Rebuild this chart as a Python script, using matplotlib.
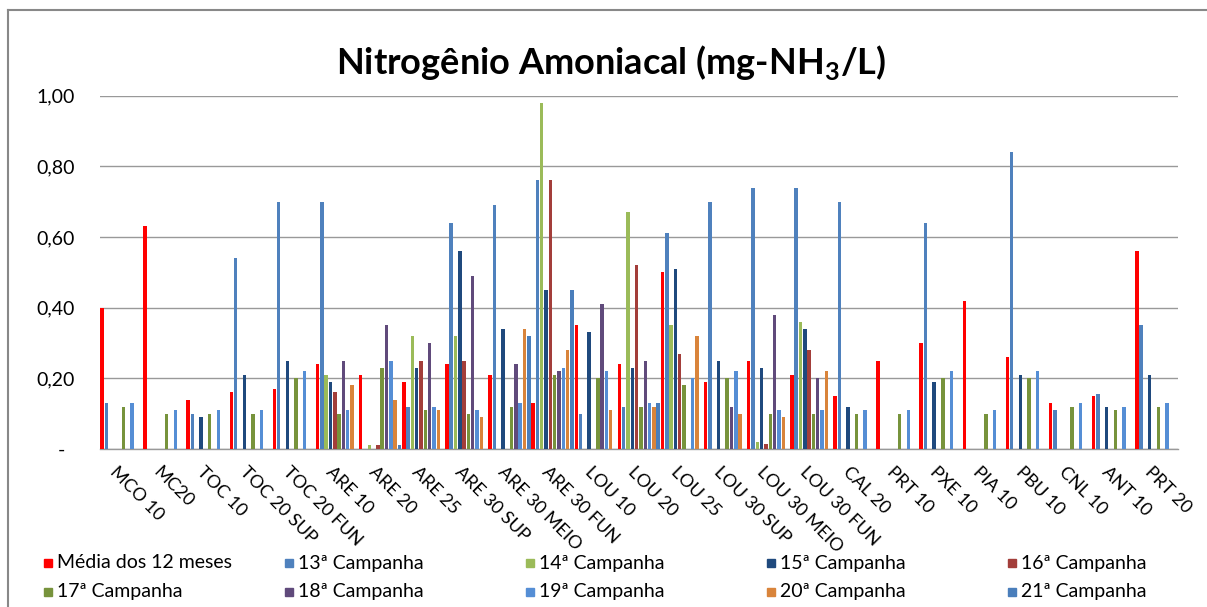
import numpy as np
import matplotlib
matplotlib.use("Agg")
import matplotlib.pyplot as plt
from matplotlib.lines import Line2D
from matplotlib.patches import Rectangle

plt.rcParams['font.family'] = ['Lato', 'DejaVu Sans']
plt.rcParams['mathtext.fontset'] = 'custom'
plt.rcParams['mathtext.rm'] = 'Lato'
plt.rcParams['mathtext.bf'] = 'Lato:bold'

nan = np.nan

# sampling points
pontos = ["MCO 10", "MC20", "TOC 10", "TOC 20 SUP", "TOC 20 FUN", "ARE 10", "ARE 20",
          "ARE 25", "ARE 30 SUP", "ARE 30 MEIO", "ARE 30 FUN", "LOU 10", "LOU 20",
          "LOU 25", "LOU 30 SUP", "LOU 30 MEIO", "LOU 30 FUN", "CAL 20", "PRT 10",
          "PXE 10", "PIA 10", "PBU 10", "CNL 10", "ANT 10", "PRT 20"]

#                 MCO  MC20 TOC10 T20S T20F ARE10 ARE20 ARE25 A30S A30M A30F LOU10 LOU20 LOU25 L30S L30M L30F CAL20 PRT10 PXE10 PIA10 PBU10 CNL10 ANT10 PRT20
media        = [0.40, 0.63, 0.14, 0.16, 0.17, 0.24, 0.21, 0.19, 0.24, 0.21, 0.13, 0.35, 0.24, 0.50, 0.19, 0.25, 0.21, 0.15, 0.25, 0.30, 0.42, 0.26, 0.13, 0.15, 0.56]
camp13       = [0.13, nan,  0.10, 0.54, 0.70, 0.70, nan,  0.12, 0.64, 0.69, 0.76, 0.10, 0.12, 0.61, 0.70, 0.74, 0.74, 0.70, nan,  0.64, nan,  0.84, 0.11, 0.155, 0.35]
camp14       = [nan,  nan,  nan,  nan,  nan,  0.21, 0.01, 0.32, 0.32, nan,  0.98, nan,  0.67, 0.35, nan,  0.02, 0.36, nan,  nan,  nan,  nan,  nan,  nan,  nan,  nan]
camp15       = [nan,  nan,  0.09, 0.21, 0.25, 0.19, nan,  0.23, 0.56, 0.34, 0.45, 0.33, 0.23, 0.51, 0.25, 0.23, 0.34, 0.12, nan,  0.19, nan,  0.21, nan,  0.12, 0.21]
camp16       = [nan,  nan,  nan,  nan,  nan,  0.16, 0.01, 0.25, 0.25, nan,  0.76, nan,  0.52, 0.27, nan,  0.015, 0.28, nan, nan,  nan,  nan,  nan,  nan,  nan,  nan]
camp17       = [0.12, 0.10, 0.10, 0.10, 0.20, 0.10, 0.23, 0.11, 0.10, 0.12, 0.21, 0.20, 0.12, 0.18, 0.20, 0.10, 0.10, 0.10, 0.10, 0.20, 0.10, 0.20, 0.12, 0.11, 0.12]
camp18       = [nan,  nan,  nan,  nan,  nan,  0.25, 0.35, 0.30, 0.49, 0.24, 0.22, 0.41, 0.25, nan,  0.12, 0.38, 0.20, nan,  nan,  nan,  nan,  nan,  nan,  nan,  nan]
camp19       = [0.13, 0.11, 0.11, 0.11, 0.22, 0.11, 0.25, 0.12, 0.11, 0.13, 0.23, 0.22, 0.13, 0.20, 0.22, 0.11, 0.11, 0.11, 0.11, 0.22, 0.11, 0.22, 0.13, 0.12, 0.13]
camp20       = [nan,  nan,  nan,  nan,  nan,  0.18, 0.14, 0.11, 0.09, 0.34, 0.28, 0.11, 0.12, 0.32, 0.10, 0.09, 0.22, nan,  nan,  nan,  nan,  nan,  nan,  nan,  nan]
camp21       = [nan,  nan,  nan,  nan,  nan,  nan,  0.01, nan,  nan,  0.32, 0.45, nan,  0.13, nan,  nan,  nan,  nan,  nan,  nan,  nan,  nan,  nan,  nan,  nan,  nan]

series = [media, camp13, camp14, camp15, camp16, camp17, camp18, camp19, camp20, camp21]
labels = ["Média dos 12 meses", "13ª Campanha", "14ª Campanha", "15ª Campanha", "16ª Campanha",
          "17ª Campanha", "18ª Campanha", "19ª Campanha", "20ª Campanha", "21ª Campanha"]
colors = ["#FF0000", "#4F81BD", "#9BBB59", "#1F497D", "#A33E3A",
          "#77933C", "#604A7B", "#558ED5", "#D9843B", "#4A7EBB"]

yticks = [0, 0.2, 0.4, 0.6, 0.8, 1.0]
ytick_labels = ["-  ", "0,20", "0,40", "0,60", "0,80", "1,00"]

W, H = 1207, 607
fig = plt.figure(figsize=(W/100, H/100), dpi=100)
ax = fig.add_axes([100/W, (H-449)/H, (1178-100)/W, (449-95.7)/H])

idx = np.arange(len(pontos))
for k, vals in enumerate(series):
    ax.bar(idx + 0.045 + 0.1*k, vals, width=0.08, color=colors[k], zorder=3)

ax.set_xlim(0, len(pontos))
ax.set_ylim(0, 1.0)
ax.set_yticks(yticks)
ax.set_yticklabels(ytick_labels, fontsize=14)
ax.yaxis.grid(True, color="#999999", lw=1.0, zorder=0)
ax.tick_params(axis='y', length=0, pad=18)

ax.set_xticks(idx + 0.43)
ax.set_xticklabels(pontos, fontsize=13, rotation=-45, ha='left', va='top', rotation_mode='anchor')
ax.tick_params(axis='x', length=0, pad=11)

for s in ["top", "right", "left"]:
    ax.spines[s].set_visible(False)
ax.spines["bottom"].set_color("#999999")
ax.spines["bottom"].set_linewidth(1.0)

fig.text(611/W, 1 - 62/H, r"Nitrogênio Amoniacal (mg-NH$_\mathbf{3}$/L)", fontsize=26,
         fontweight='bold', ha='center', va='center')

# outer chart frame (cut off at right/bottom)
fig.add_artist(Line2D([8/W, 8/W], [0, 1 - 10/H], color="#888888", lw=1.5))
fig.add_artist(Line2D([8/W, 1], [1 - 10/H, 1 - 10/H], color="#888888", lw=1.5))

# legend, 2 rows x 5 columns
for i, lab in enumerate(labels):
    row, col = divmod(i, 5)
    x0 = 44 + 241*col
    y0 = 563 + 29*row
    fig.add_artist(Rectangle((x0/W, 1 - (y0+4)/H), 8/W, 8/H, color=colors[i]))
    fig.text((x0+13)/W, 1 - y0/H, lab, fontsize=14, ha='left', va='center')

fig.savefig("out.png", dpi=100)
